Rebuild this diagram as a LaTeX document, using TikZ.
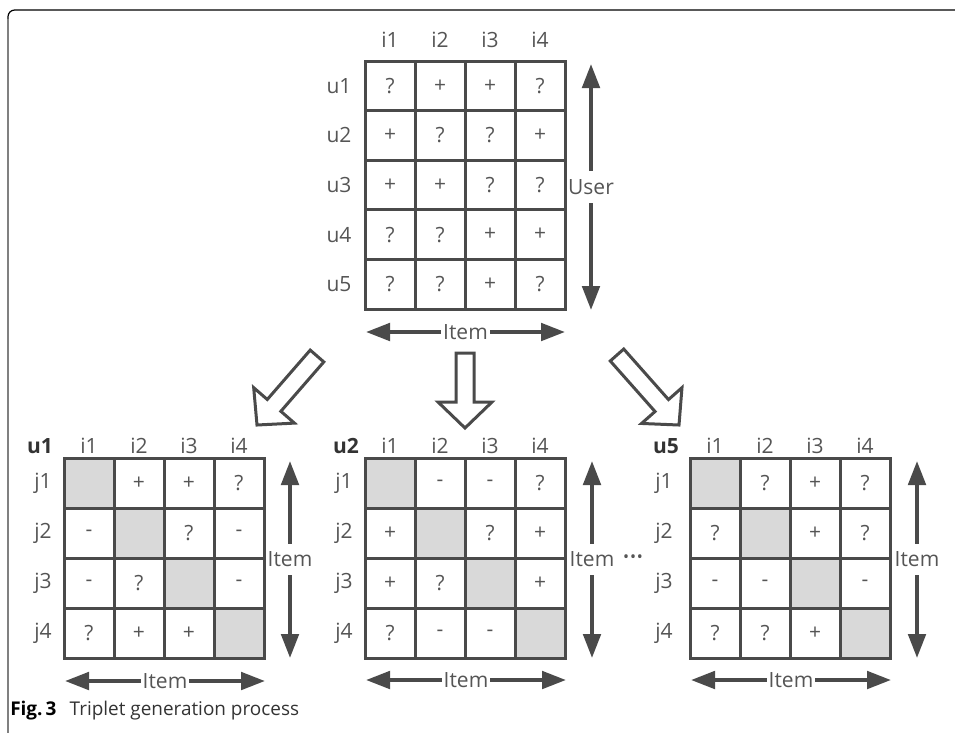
\documentclass[tikz,border=0pt]{standalone}
\usepackage{fontspec}
\setmainfont{Open Sans}
\usetikzlibrary{calc,arrows.meta}
\definecolor{gridc}{HTML}{4A4A4A}
\definecolor{txtc}{HTML}{555555}
\definecolor{shadec}{HTML}{D9D9D9}
\definecolor{capc}{HTML}{333333}
\tikzset{
  every node/.style={font=\fontsize{15.75}{18}\selectfont, text=txtc, inner sep=0pt},
  boldlab/.style={font=\fontsize{15.75}{18}\selectfont\bfseries, text=capc},
  gridline/.style={draw=gridc, line width=2.25pt, line cap=rect},
  dbl/.style={draw=gridc, line width=3pt, {Triangle[length=18pt,width=13pt]}-{Triangle[length=18pt,width=13pt]}},
  hlab/.style={fill=white, inner xsep=1.5pt, inner ysep=3pt},
  vlab/.style={fill=white, inner xsep=1pt, inner ysep=6pt},
  hollow/.style={draw=gridc, line width=2.25pt, fill=white, line join=miter},
}
% #1 name, #2 X, #3 Y, #4 nrows, #5 cell height, #6 rows
\newcommand{\drawmat}[6]{%
  \foreach \row [count=\r] in {#6}{
    \foreach \t [count=\c] in \row {
      \node (#1-\r-\c) at ({#2+(\c-0.5)*50},{#3+(\r-0.5)*#5}) {\t};
    }
  }
  \foreach \k in {0,...,4} \draw[gridline] ({#2+\k*50},#3) -- ({#2+\k*50},{#3+#4*#5});
  \foreach \k in {0,...,#4} \draw[gridline] (#2,{#3+\k*#5}) -- ({#2+200},{#3+\k*#5});
}
\newcommand{\shadediag}[2]{%
  \foreach \k in {1,...,4} \fill[shadec] ({#1+(\k-1)*50},{#2+(\k-1)*50}) rectangle ++(50,50);
}
% #1 name, #2 tail, #3 tip
\newcommand{\hollowarrow}[3]{%
  \coordinate (#1-t) at #2;
  \coordinate (#1-h) at #3;
  \coordinate (#1-b) at ($(#1-h)!19.5pt!(#1-t)$);
  \draw[hollow] ($(#1-t)!6.75pt!90:(#1-h)$) -- ($(#1-b)!6.75pt!90:(#1-h)$)
    -- ($(#1-b)!20.25pt!90:(#1-h)$) -- (#1-h) -- ($(#1-b)!20.25pt!-90:(#1-h)$)
    -- ($(#1-b)!6.75pt!-90:(#1-h)$) -- ($(#1-t)!6.75pt!-90:(#1-h)$) -- cycle;
}
\begin{document}
\begin{tikzpicture}[x=0.75pt,y=-0.75pt]
\useasboundingbox (0,0) rectangle (955,733);
% frame
\draw[black, line width=0.9pt, rounded corners=5] (955,10) -- (8,10) -- (8,20);
\draw[gray, line width=1.2pt] (8,19) -- (8,733);

% ---------- top matrix ----------
\drawmat{T}{365}{61}{5}{49.6}{{?,+,+,?},{+,?,?,+},{+,+,?,?},{?,?,+,+},{?,?,+,?}}
\foreach \c in {1,...,4} \node (Ti\c) at ({365+(\c-0.5)*50},40) {i\c};
\foreach \r in {1,...,5} \node (Tu\r) at (339,{61+(\r-0.5)*49.6}) {u\r};
\coordinate (Tv1) at (591,64); \coordinate (Tv2) at (591,310);
\draw[dbl] (Tv1) -- node[vlab] (Tuser) {User} (Tv2);
\coordinate (Th1) at (366,332); \coordinate (Th2) at (565,332);
\draw[dbl] (Th1) -- node[hlab] (Titem) {Item} (Th2);

% ---------- hollow arrows ----------
\hollowarrow{HA}{(317,356)}{(257,425)}
\hollowarrow{HB}{(465,353)}{(465,428)}
\hollowarrow{HC}{(617,355)}{(679,425)}

% ---------- bottom left (u1) ----------
\shadediag{64}{458}
\drawmat{A}{64}{458}{4}{50}{{{},+,+,?},{-,{},?,-},{-,?,{},-},{?,+,+,{}}}
\node[boldlab] (Au) at (40,446) {u1};
\foreach \c in {1,...,4} \node (Ai\c) at ({64+(\c-0.5)*50},446) {i\c};
\foreach \r in {1,...,4} \node (Aj\r) at (43,{458+(\r-0.5)*50}) {j\r};
\coordinate (Av1) at (290,461); \coordinate (Av2) at (290,658);
\draw[dbl] (Av1) -- node[vlab] (Aitemv) {Item} (Av2);
\coordinate (Ah1) at (65,681); \coordinate (Ah2) at (265,681);
\draw[dbl] (Ah1) -- node[hlab] (Aitemh) {Item} (Ah2);

% ---------- bottom middle (u2) ----------
\shadediag{365}{458}
\drawmat{B}{365}{458}{4}{50}{{{},-,-,?},{+,{},?,+},{+,?,{},+},{?,-,-,{}}}
\node[boldlab] (Bu) at (346,446) {u2};
\foreach \c in {1,...,4} \node (Bi\c) at ({365+(\c-0.5)*50},446) {i\c};
\foreach \r in {1,...,4} \node (Bj\r) at (344,{458+(\r-0.5)*50}) {j\r};
\coordinate (Bv1) at (592,461); \coordinate (Bv2) at (592,658);
\draw[dbl] (Bv1) -- node[vlab] (Bitemv) {Item} (Bv2);
\node[anchor=west, font=\fontsize{12}{12}\selectfont] (Bdots) at ([xshift=4pt,yshift=0.5pt]Bitemv.east) {•\kern0.6pt•\kern0.6pt•};
\coordinate (Bh1) at (366,680); \coordinate (Bh2) at (566,680);
\draw[dbl] (Bh1) -- node[hlab] (Bitemh) {Item} (Bh2);

% ---------- bottom right (u5) ----------
\shadediag{690}{458}
\drawmat{C}{690}{458}{4}{50}{{{},?,+,?},{?,{},+,?},{-,-,{},-},{?,?,+,{}}}
\node[boldlab] (Cu) at (666,446) {u5};
\foreach \c in {1,...,4} \node (Ci\c) at ({690+(\c-0.5)*50},446) {i\c};
\foreach \r in {1,...,4} \node (Cj\r) at (664,{458+(\r-0.5)*50}) {j\r};
\coordinate (Cv1) at (917,461); \coordinate (Cv2) at (917,658);
\draw[dbl] (Cv1) -- node[vlab] (Citemv) {Item} (Cv2);
\coordinate (Ch1) at (691,680); \coordinate (Ch2) at (891,680);
\draw[dbl] (Ch1) -- node[hlab] (Citemh) {Item} (Ch2);

% ---------- caption ----------
\node[anchor=west, font=\fontsize{14.2}{16}\selectfont, text=capc] (cap) at (10,711)
  {{\bfseries\color{black}Fig.\,3}\hspace{0.7em}Triplet generation process};
\end{tikzpicture}
\end{document}
